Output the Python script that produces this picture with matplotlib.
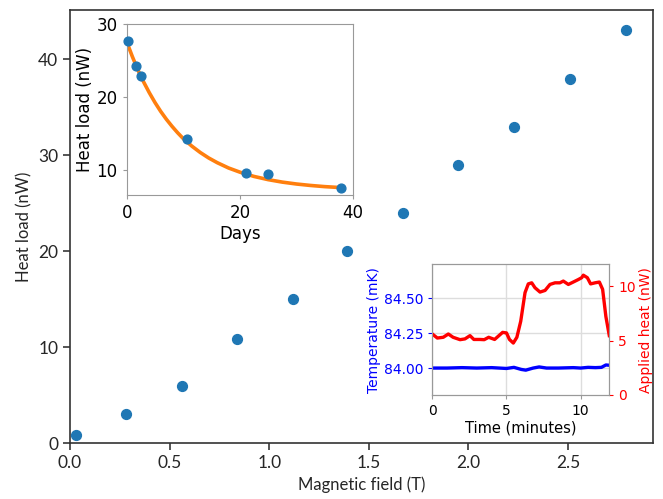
import matplotlib
matplotlib.use('Agg')
import matplotlib.pyplot as plt
import numpy as np

# main panel: heat load vs magnetic field
field_T = [0.03, 0.28, 0.56, 0.84, 1.12, 1.39, 1.67, 1.95, 2.23, 2.51, 2.79]
heat_nW = [0.9, 3.0, 5.95, 10.9, 15.0, 20.0, 24.0, 29.0, 32.9, 37.9, 43.0]

# inset 1: heat load decay over days
days = [0.18, 1.6, 2.5, 10.6, 21.0, 24.9, 37.8]
days_heat = [27.75, 24.3, 22.9, 14.3, 9.55, 9.4, 7.57]
# orange fit curve
fit_days = [0, 1, 2, 3, 4, 5, 6, 7, 8, 9, 10, 11.5, 13, 14.5, 16, 18, 20, 22.5,
            25, 27.5, 30, 32.5, 35, 38]
fit_heat = [27.6, 25.56, 23.7, 22.07, 20.6, 19.26, 18.05, 16.97, 16.0, 15.11,
            14.3, 13.28, 12.4, 11.64, 11.0, 10.27, 9.7, 9.11, 8.67, 8.33, 8.07,
            7.87, 7.71, 7.57]

# inset 2: temperature and applied heat vs time
t_red = [0.0, 0.34, 0.74, 1.08, 1.4, 1.87, 2.2, 2.54, 2.8, 3.2, 3.5, 3.8, 4.2, 4.74,
         5.0, 5.2, 5.46, 5.7, 5.96, 6.25, 6.47, 6.7, 6.92, 7.26, 7.6, 7.93, 8.27,
         8.6, 8.83, 9.17, 9.5, 9.84, 10.07, 10.18, 10.45, 10.67, 10.97, 11.26,
         11.48, 11.7, 11.93]
applied_heat = [5.6, 5.23, 5.3, 5.6, 5.3, 5.08, 5.15, 5.45, 5.1, 5.1, 5.08, 5.3, 5.1,
                5.75, 5.7, 5.1, 4.77, 5.3, 6.77, 9.4, 10.2, 10.3, 9.85, 9.45, 9.6,
                10.15, 10.3, 10.3, 10.46, 10.15, 10.37, 10.6, 10.77, 11.0, 10.77,
                10.2, 10.3, 10.37, 9.7, 7.2, 5.45]
t_blue = [0.0, 1.0, 2.0, 3.0, 4.0, 5.0, 5.5, 6.0, 6.3, 6.8, 7.2, 7.7, 8.5, 9.5,
          10.0, 10.5, 11.0, 11.4, 11.7, 11.93]
temperature = [84.0, 84.0, 84.003, 84.0, 84.003, 83.997, 84.005, 83.99, 83.985,
               84.0, 84.008, 84.0, 84.0, 84.003, 84.0, 84.005, 84.003, 84.005,
               84.022, 84.02]

dark = '#262626'
plt.rcParams['font.family'] = ['Lato', 'DejaVu Sans']

fig = plt.figure(figsize=(6.63, 4.99), dpi=100)
ax = fig.add_axes([70/663, 1-443.3/499, (653.3-70)/663, (443.3-10)/499])
ax.scatter(field_T, heat_nW, s=50, color='#1f77b4', zorder=3)
ax.set_xlim(left=0)
ax.set_ylim(bottom=0)
ax.set_xticks([0.0, 0.5, 1.0, 1.5, 2.0, 2.5])
ax.set_yticks([0, 10, 20, 30, 40])
ax.set_xlabel('Magnetic field (T)', fontsize=12, color=dark)
ax.set_ylabel('Heat load (nW)', fontsize=12, color=dark)
ax.tick_params(labelsize=12.5, colors=dark, length=5, width=1.1)
for sp in ax.spines.values():
    sp.set_color('#333333')
    sp.set_linewidth(1.2)

# inset 1
ax1 = fig.add_axes([126.7/663, 1-195/499, (353-126.7)/663, (195-24.3)/499])
ax1.plot(fit_days, fit_heat, color='#ff7f0e', lw=2.6, zorder=2)
ax1.scatter(days, days_heat, s=40, color='#1f77b4', zorder=3, clip_on=False)
ax1.set_xlim(0, 40)
ax1.set_ylim(6.56, 30)
ax1.set_xticks([0, 20, 40])
ax1.set_yticks([10, 20, 30])
ax1.set_xlabel('Days', fontsize=12, family='DejaVu Sans', labelpad=2)
ax1.set_ylabel('Heat load (nW)', fontsize=12, family='DejaVu Sans', labelpad=2)
ax1.tick_params(labelsize=12, length=3, color='#999999')
for lab in ax1.get_xticklabels() + ax1.get_yticklabels():
    lab.set_family('DejaVu Sans')
for sp in ax1.spines.values():
    sp.set_color('#999999')

# inset 2
ax2 = fig.add_axes([432.3/663, 1-395/499, (609.3-432.3)/663, (395-264.3)/499])
ax2.plot(t_blue, temperature, color='blue', lw=2.4)
ax2.set_xlim(0, 11.93)
ax2.set_ylim(83.807, 84.743)
ax2.set_xticks([0, 5, 10])
ax2.set_yticks([84.0, 84.25, 84.5])
ax2.set_yticklabels(['84.00', '84.25', '84.50'])
ax2.grid(True, color='#dddddd', lw=1)
ax2.set_axisbelow(True)
ax2.set_xlabel('Time (minutes)', fontsize=10.5, family='DejaVu Sans', labelpad=2)
ax2.set_ylabel('Temperature (mK)', fontsize=10, family='DejaVu Sans', color='blue', labelpad=2)
ax2.tick_params(axis='y', labelsize=10, colors='blue', length=3)
ax2.tick_params(axis='x', labelsize=10, length=3, color='#999999')
ax2r = ax2.twinx()
ax2r.plot(t_red, applied_heat, color='red', lw=2.4)
ax2r.set_ylim(0, 12)
ax2r.set_yticks([0, 5, 10])
ax2r.set_ylabel('Applied heat (nW)', fontsize=10, family='DejaVu Sans', color='red', labelpad=2)
ax2r.tick_params(axis='y', labelsize=10, colors='red', length=3)
for a in (ax2, ax2r):
    for lab in a.get_xticklabels() + a.get_yticklabels():
        lab.set_family('DejaVu Sans')
    for sp in a.spines.values():
        sp.set_color('#999999')

fig.savefig('out.png', dpi=100)
